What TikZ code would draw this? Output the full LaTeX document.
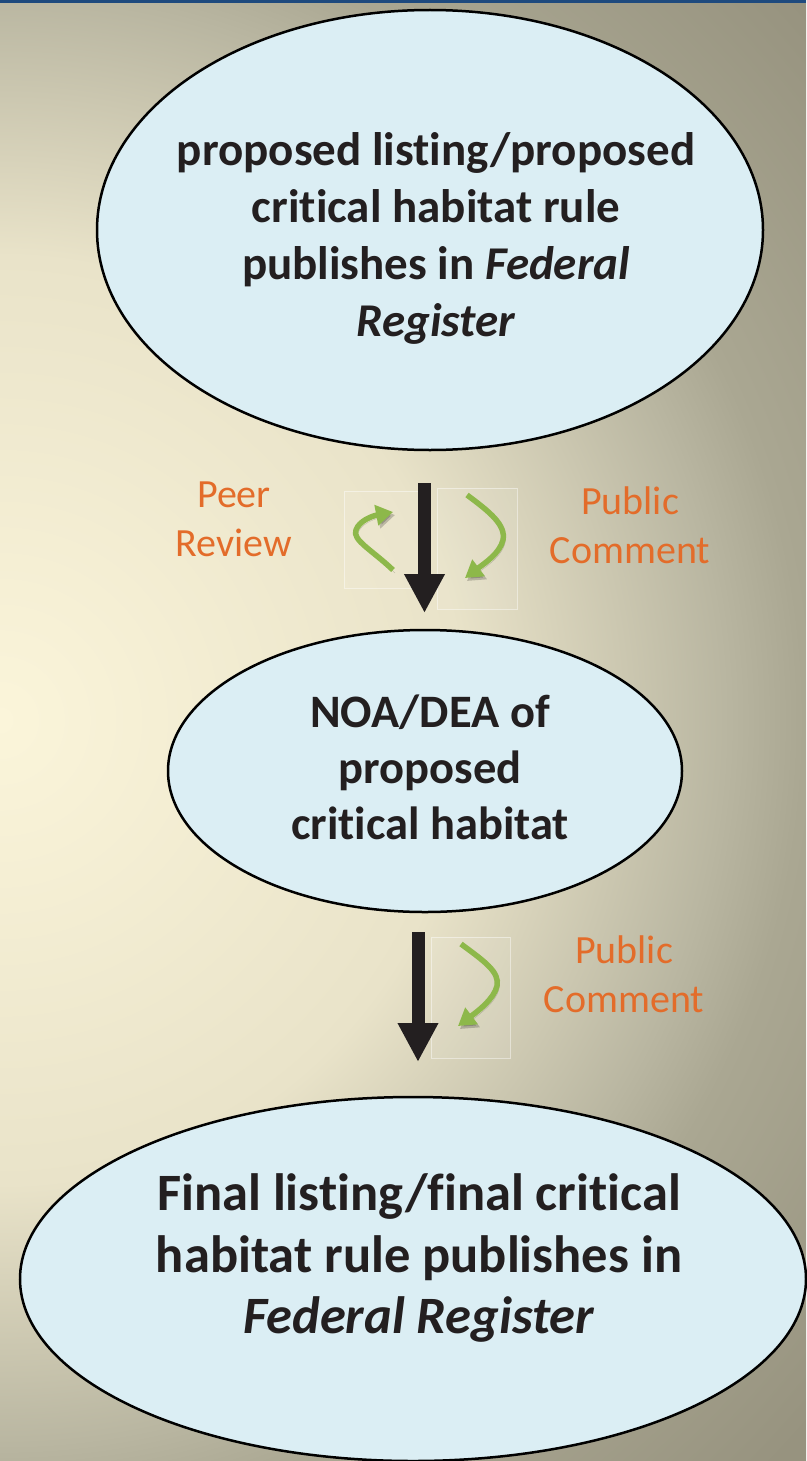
\documentclass[tikz,border=0pt]{standalone}
\usepackage{fontspec}
\setmainfont[Ligatures=NoCommon]{Carlito}
\usetikzlibrary{arrows.meta,shapes.geometric}
\definecolor{bgA}{HTML}{FBF5DA}
\definecolor{bgB}{HTML}{E9E3C9}
\definecolor{bgC}{HTML}{B9B6A1}
\definecolor{bgD}{HTML}{AAA792}
\definecolor{bgE}{HTML}{97937F}
\definecolor{topbar}{HTML}{1E4A7E}
\definecolor{ellblue}{HTML}{DBEEF4}
\definecolor{arrowblack}{HTML}{231F20}
\definecolor{leaf}{HTML}{8DB84A}
\definecolor{orangetxt}{HTML}{E36C2A}
\pgfdeclareradialshading{bgshade}{\pgfpoint{0bp}{0bp}}{color(0bp)=(bgA); color(10.5bp)=(bgB); color(16.4bp)=(bgC); color(18.2bp)=(bgD); color(24.3bp)=(bgE); color(50bp)=(bgE)}
\tikzset{
  ell/.style={ellipse, draw=black, line width=2.5pt, fill=ellblue, inner sep=0pt},
  etext/.style={align=center, text=arrowblack, inner sep=0pt},
  lbl/.style={align=center, text=orangetxt, inner sep=0pt, font=\fontsize{40}{49}\selectfont},
  bigarrow/.style={draw=arrowblack, line width=13pt, -{Triangle[width=38pt,length=39pt]}},
  garrow/.style={draw=leaf, line width=5.5pt, -{Triangle[width=20pt,length=17pt]},
    preaction={draw=black, draw opacity=0.2, fill opacity=0.2, transform canvas={shift={(2pt,-3pt)}}}},
  tbox/.style={draw=white, draw opacity=0.45, fill=white, fill opacity=0.07, line width=0.8pt}
}
\begin{document}
\begin{tikzpicture}[x=1pt,y=-1pt]
\useasboundingbox (0,0) rectangle (806,1461);
\begin{scope}
  \clip (0,0) rectangle (806,1461);
  \begin{pgfscope}
    \pgftransformshift{\pgfpoint{0pt}{-720pt}}
    \pgftransformscale{44}
    \pgflowlevelsynccm
    \pgfuseshading{bgshade}
  \end{pgfscope}
\end{scope}
\fill[topbar] (0,0) rectangle (806,3);

% ellipses
\node[ell, minimum width=666pt, minimum height=440pt] (e1) at (430,230) {};
\node[ell, minimum width=514pt, minimum height=282pt] (e2) at (425,771) {};
\node[ell, minimum width=786pt, minimum height=364pt] (e3) at (413,1279) {};

\node[etext, font=\fontsize{47}{57}\selectfont\bfseries] (t1) at (436,238)
  {proposed listing/proposed\\critical habitat rule\\publishes in \textit{Federal}\\\textit{Register}};
\node[etext, font=\fontsize{46.5}{56}\selectfont\bfseries] (t2) at (430,767)
  {NOA/DEA of\\proposed\\critical habitat};
\node[etext, font=\fontsize{52.5}{61.5}\selectfont\bfseries] (t3) at (419,1258)
  {Final listing/final critical\\habitat rule publishes in\\\textit{Federal Register}};

% translucent boxes
\draw[tbox] (344,491) rectangle (419,588);
\draw[tbox] (437,488) rectangle (517,609);
\draw[tbox] (431,937) rectangle (510,1058);

% green cycle arrows
\draw[garrow] (393,570) .. controls (372,550) and (352,540) .. (356,530) .. controls (359,521) and (372,516) .. (393,512);
\draw[garrow] (467,495) .. controls (490,512) and (506,525) .. (503,540) .. controls (500,553) and (485,563) .. (465,578);
\draw[garrow] (461,944) .. controls (484,961) and (500,972) .. (497,986) .. controls (494,999) and (478,1011) .. (458,1026);

% black arrows
\coordinate (a1s) at (424.5,483);
\coordinate (a1e) at (424.5,613);
\coordinate (a2s) at (418,932);
\coordinate (a2e) at (418,1062);
\draw[bigarrow] (a1s) -- (a1e);
\draw[bigarrow] (a2s) -- (a2e);

% labels
\node[lbl] (peer) at (234,519) {Peer\\Review};
\node[lbl] (pc1) at (630,525) {Public\\Comment};
\node[lbl] (pc2) at (624,974) {Public\\Comment};
\end{tikzpicture}
\end{document}
